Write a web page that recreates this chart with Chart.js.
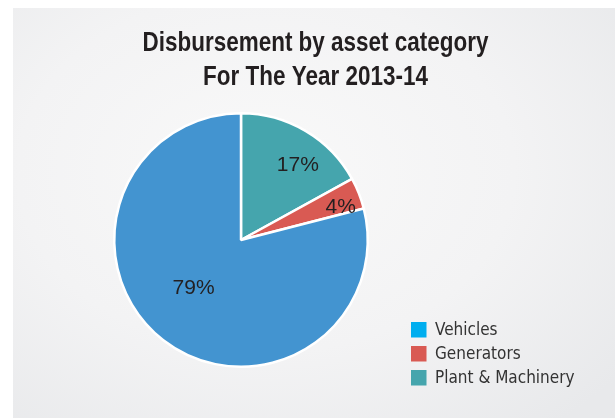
<!DOCTYPE html>
<html>
<head>
<meta charset="utf-8">
<script src="https://cdn.jsdelivr.net/npm/chart.js@4.4.1/dist/chart.umd.min.js"></script>
<style>
  html, body { margin: 0; padding: 0; background: #ffffff; }
  #wrap { position: relative; width: 615px; height: 418px; overflow: hidden; }
  #panel {
    position: absolute; left: 13px; top: 8px; right: 0; bottom: 0;
    background: radial-gradient(ellipse 75% 80% at 42% 40%, #f9f9f9 0%, #f3f3f4 55%, #e8e9eb 100%);
  }
  #chart { position: absolute; left: 0; top: 0; }
</style>
</head>
<body>
<div id="wrap">
  <div id="panel"></div>
  <canvas id="chart" width="615" height="418"></canvas>
</div>
<script>
// Slices run clockwise from 12 o'clock
const categories = ['Plant & Machinery', 'Generators', 'Vehicles'];
const shares = [17, 4, 79];
const titleLines = ['Disbursement by asset category', 'For The Year 2013-14'];
const legendOrder = ['Vehicles', 'Generators', 'Plant & Machinery'];

const sliceColors = {
  'Plant & Machinery': '#45a5ad',
  'Generators': '#d95a53',
  'Vehicles': '#4394d0'
};
const legendColors = {
  'Plant & Machinery': '#45a5ad',
  'Generators': '#d95a53',
  'Vehicles': '#00aeef'
};
// where each percentage sits: fraction along the slice, fraction of the radius
const labelSpots = [
  { along: 0.60, out: 0.75 },
  { along: 0.70, out: 0.83 },
  { along: 0.525, out: 0.53 }
];

const inkColor = '#231f20';

// condensed bold headline: a bold sans squeezed horizontally
const titlePlugin = {
  id: 'headline',
  afterDraw(chart) {
    const ctx = chart.ctx;
    ctx.save();
    ctx.fillStyle = inkColor;
    ctx.textAlign = 'center';
    ctx.textBaseline = 'alphabetic';
    ctx.font = "bold 27px 'Liberation Sans', Arial, sans-serif";
    ctx.translate(315.5, 0);
    ctx.scale(0.832, 1);
    ctx.fillText(titleLines[0], 0, 51);
    ctx.fillText(titleLines[1], 0, 84.5);
    ctx.restore();
  }
};

const sliceLabelPlugin = {
  id: 'sliceLabels',
  afterDatasetsDraw(chart) {
    const ctx = chart.ctx;
    const meta = chart.getDatasetMeta(0);
    ctx.save();
    ctx.fillStyle = inkColor;
    ctx.textAlign = 'center';
    ctx.textBaseline = 'middle';
    ctx.font = "21px 'Liberation Sans', Arial, sans-serif";
    meta.data.forEach((arc, i) => {
      const p = arc.getProps(['x', 'y', 'startAngle', 'endAngle', 'outerRadius'], true);
      const spot = labelSpots[i];
      const a = p.startAngle + (p.endAngle - p.startAngle) * spot.along;
      const r = p.outerRadius * spot.out;
      ctx.fillText(shares[i] + '%', p.x + Math.cos(a) * r, p.y + Math.sin(a) * r + 1);
    });
    ctx.restore();
  }
};

const legendPlugin = {
  id: 'keyBox',
  afterDraw(chart) {
    const ctx = chart.ctx;
    ctx.save();
    ctx.textAlign = 'left';
    ctx.textBaseline = 'alphabetic';
    ctx.font = "17px 'DejaVu Sans Condensed', 'DejaVu Sans', sans-serif";
    legendOrder.forEach((name, i) => {
      const top = 322 + i * 24;
      ctx.fillStyle = legendColors[name];
      ctx.fillRect(411, top, 15.5, 15.5);
      ctx.fillStyle = '#333333';
      ctx.fillText(name, 435, top + 13.3);
    });
    ctx.restore();
  }
};

new Chart(document.getElementById('chart'), {
  type: 'pie',
  data: {
    labels: categories,
    datasets: [{
      data: shares,
      backgroundColor: categories.map(c => sliceColors[c]),
      borderColor: '#ffffff',
      borderWidth: 2.5
    }]
  },
  options: {
    responsive: false,
    animation: false,
    devicePixelRatio: 1,
    layout: { padding: { left: 113, right: 246, top: 112, bottom: 50 } },
    plugins: {
      legend: { display: false },
      title: { display: false },
      tooltip: { enabled: false }
    }
  },
  plugins: [sliceLabelPlugin, titlePlugin, legendPlugin]
});
</script>
</body>
</html>
